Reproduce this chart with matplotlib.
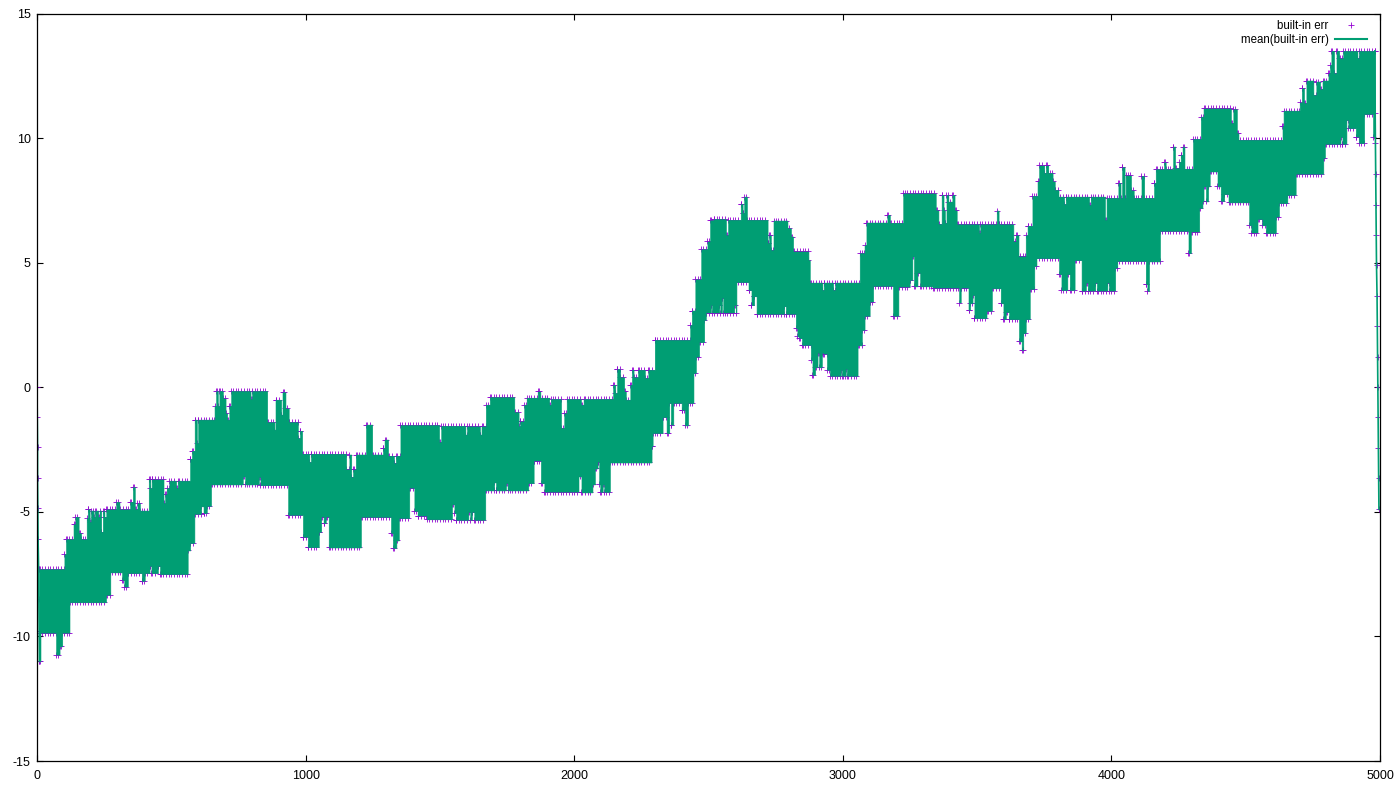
import matplotlib
matplotlib.use("Agg")
import matplotlib.pyplot as plt
import numpy as np

plt.rcParams['font.family'] = ['Liberation Sans', 'DejaVu Sans']
plt.rcParams['axes.unicode_minus'] = False

# upper edge of the band: (x where the level starts, level)
hi_steps = [
    (8, -7.3), (102, -6.7), (108, -6.1), (136, -5.5), (143, -5.2), (155, -5.85), (164, -6.1),
    (185, -5.25), (189, -4.9), (196, -5.4), (201, -4.95), (211, -5.2), (216, -4.95), (228, -5.2),
    (233, -4.95), (239, -5.8), (245, -4.95), (251, -5.2), (258, -4.9), (295, -4.6), (307, -4.9),
    (347, -4.6), (357, -4.0), (364, -4.9), (374, -4.65), (383, -4.95), (416, -3.7), (422, -4.05),
    (427, -3.7), (471, -4.65), (477, -4.3), (483, -4.05), (493, -3.75), (518, -4.05), (524, -3.75),
    (570, -2.87), (577, -2.55), (587, -1.3), (595, -2.25), (600, -1.3), (661, -0.75), (667, -0.15),
    (673, -0.75), (679, -0.15), (692, -0.45), (702, -1.05), (708, -1.3), (716, -0.75), (723, -0.15),
    (795, -0.48), (801, -0.15), (857, -1.4), (884, -1.7), (888, -0.5), (909, -1.1), (914, -0.2),
    (925, -0.85), (937, -1.4), (971, -2.05), (979, -1.75), (987, -2.67), (1014, -3.0), (1020, -2.67),
    (1151, -3.3), (1163, -2.7), (1170, -3.6), (1177, -3.3), (1187, -2.7), (1225, -1.5), (1248, -2.7),
    (1288, -2.45), (1294, -2.1), (1307, -2.75), (1329, -3.05), (1336, -2.75), (1353, -1.52),
    (1497, -2.2), (1505, -1.55), (1595, -1.9), (1601, -1.57), (1649, -1.9), (1655, -1.57),
    (1671, -0.7), (1686, -0.4), (1777, -1.0), (1793, -1.57), (1799, -1.37), (1814, -0.7), (1823, -0.42),
    (1864, -0.17), (1874, -0.42), (1907, -0.7), (1913, -0.47), (1951, -1.64), (1963, -1.04),
    (1972, -0.47), (2025, -0.7), (2035, -0.47), (2145, 0.1), (2153, -0.23), (2160, 0.73), (2171, 0.4),
    (2186, -0.17), (2192, -0.5), (2209, 0.1), (2215, 0.7), (2221, 0.4), (2238, 0.7), (2263, 0.37),
    (2276, 0.7), (2300, 1.9), (2432, 2.5), (2438, 3.08), (2451, 4.33), (2473, 5.54), (2496, 5.85),
    (2506, 6.7), (2519, 6.75), (2565, 6.1), (2573, 6.72), (2620, 7.36), (2627, 7.0), (2633, 7.65),
    (2643, 6.72), (2720, 5.78), (2726, 6.1), (2732, 5.5), (2742, 6.69), (2794, 6.38), (2807, 6.05),
    (2815, 5.45), (2872, 5.1), (2877, 4.2), (2924, 3.9), (2929, 4.2), (2964, 3.9), (2972, 4.2),
    (3063, 5.38), (3081, 5.7), (3088, 6.61), (3166, 6.92), (3175, 6.6), (3225, 7.78), (3346, 7.1),
    (3356, 6.55), (3368, 7.72), (3375, 7.1), (3380, 6.6), (3386, 7.72), (3393, 7.45), (3408, 7.72),
    (3416, 7.1), (3424, 6.54), (3507, 6.2), (3512, 6.54), (3573, 7.09), (3580, 6.54), (3635, 5.85),
    (3644, 6.1), (3654, 5.25), (3681, 6.1), (3688, 6.48), (3706, 7.68), (3725, 8.26), (3731, 8.9),
    (3750, 8.6), (3756, 8.9), (3765, 8.6), (3781, 8.26), (3789, 7.92), (3803, 7.65), (3824, 7.35),
    (3830, 7.65), (3917, 7.32), (3923, 7.65), (3976, 6.72), (3982, 7.6), (4026, 8.2), (4034, 7.6),
    (4040, 8.83), (4049, 7.6), (4053, 8.5), (4073, 7.9), (4083, 7.6), (4112, 8.48), (4122, 7.6),
    (4159, 8.2), (4165, 8.75), (4196, 9.03), (4202, 8.75), (4230, 9.66), (4237, 8.79), (4252, 9.05),
    (4258, 9.33), (4265, 9.66), (4272, 8.77), (4304, 9.97), (4333, 10.86), (4343, 11.19), (4445, 10.6),
    (4454, 11.16), (4467, 10.2), (4473, 9.93), (4637, 10.49), (4641, 11.1), (4701, 11.43), (4709, 12.0),
    (4717, 11.4), (4726, 12.31), (4752, 11.73), (4763, 12.27), (4777, 11.96), (4786, 12.31),
    (4808, 12.6), (4814, 12.94), (4819, 13.5), (4829, 12.6), (4838, 13.5), (4848, 13.2), (4863, 13.5),
    (4916, 13.2), (4922, 13.5), (4981, 13.5),
]

# lower edge of the band
lo_steps = [
    (8, -9.8), (9, -11.0), (13, -9.85), (71, -10.73), (84, -10.4), (94, -9.85), (121, -8.63),
    (257, -8.33), (273, -7.43), (317, -7.73), (325, -8.0), (338, -7.46), (390, -7.77), (401, -7.46),
    (419, -7.17), (426, -7.46), (450, -7.17), (458, -7.5), (561, -6.55), (570, -6.25), (586, -5.08),
    (611, -4.78), (620, -5.05), (632, -4.76), (648, -3.9), (766, -3.58), (775, -3.9), (826, -3.6),
    (832, -3.93), (935, -5.12), (990, -6.0), (1008, -6.42), (1049, -5.8), (1058, -5.19), (1067, -5.45),
    (1075, -5.19), (1086, -6.43), (1206, -5.2), (1318, -5.85), (1325, -6.45), (1338, -6.15),
    (1347, -5.25), (1386, -4.03), (1405, -4.96), (1417, -5.15), (1451, -5.3), (1545, -4.7), (1554, -5.05),
    (1560, -5.32), (1606, -5.0), (1613, -5.32), (1619, -5.0), (1628, -5.32), (1669, -4.14), (1702, -3.82),
    (1709, -4.14), (1746, -3.85), (1752, -4.14), (1829, -3.85), (1849, -2.94), (1876, -3.85),
    (1889, -4.19), (2016, -3.58), (2027, -4.22), (2068, -3.9), (2077, -3.26), (2087, -2.98), (2093, -3.9),
    (2097, -4.2), (2106, -3.9), (2112, -4.2), (2133, -3.02), (2288, -2.37), (2292, -1.84), (2329, -1.2),
    (2344, -1.84), (2354, -0.63), (2360, -1.5), (2369, -0.63), (2400, -0.9), (2412, -1.53), (2424, -0.63),
    (2444, 0.57), (2453, 1.23), (2465, 1.81), (2484, 2.7), (2490, 3.0), (2509, 3.3), (2513, 3.0),
    (2540, 3.3), (2544, 3.0), (2550, 3.6), (2555, 3.0), (2596, 3.3), (2602, 3.0), (2604, 4.22),
    (2649, 3.9), (2660, 3.3), (2670, 3.65), (2679, 2.95), (2782, 3.25), (2788, 2.95), (2825, 2.37),
    (2831, 2.04), (2838, 1.97), (2848, 1.7), (2881, 1.1), (2887, 0.5), (2897, 0.8), (2906, 1.39),
    (2912, 0.8), (2922, 1.39), (2928, 1.35), (2941, 0.7), (2952, 0.46), (2993, 0.7), (2997, 0.46),
    (3011, 0.75), (3015, 0.46), (3055, 1.68), (3071, 2.3), (3081, 2.87), (3100, 3.44), (3113, 4.07),
    (3187, 2.87), (3207, 4.04), (3249, 4.31), (3259, 5.25), (3265, 4.05), (3278, 4.6), (3288, 4.05),
    (3334, 4.0), (3433, 3.4), (3439, 4.0), (3468, 3.1), (3474, 3.37), (3483, 3.7), (3490, 2.77),
    (3535, 3.07), (3555, 3.97), (3588, 3.37), (3598, 2.74), (3607, 3.02), (3619, 2.73), (3656, 1.84),
    (3666, 1.5), (3672, 2.17), (3681, 2.73), (3696, 3.95), (3713, 4.87), (3721, 5.18), (3805, 4.54),
    (3814, 3.9), (3836, 4.54), (3845, 3.9), (3863, 5.1), (3889, 3.88), (3905, 4.2), (3912, 3.88),
    (3940, 4.2), (3946, 3.88), (3985, 4.2), (3991, 3.88), (4014, 4.8), (4022, 5.07), (4128, 4.15),
    (4134, 3.87), (4140, 5.05), (4181, 6.28), (4287, 5.38), (4296, 6.25), (4327, 7.19), (4339, 7.46),
    (4343, 8.06), (4352, 7.46), (4360, 8.06), (4366, 8.66), (4395, 8.06), (4407, 7.48), (4420, 7.75),
    (4436, 7.42), (4513, 6.5), (4521, 6.21), (4544, 6.75), (4562, 6.5), (4575, 6.19), (4612, 6.85),
    (4624, 7.39), (4655, 7.72), (4686, 8.57), (4789, 9.2), (4795, 9.77), (4853, 10.05), (4860, 9.77),
    (4875, 10.73), (4882, 10.4), (4910, 10.06), (4922, 9.8), (4941, 10.97), (4974, 10.06),
]

# the two steep runs at both ends of the series
start_x = [0, 1, 2, 2, 3, 4, 6, 7, 8, 9]
start_y = [0.0, -1.2, -2.4, -3.65, -4.85, -6.1, -7.3, -8.5, -9.8, -11.0]
end_x = [4981, 4982, 4983, 4984, 4985, 4986, 4987, 4989, 4990, 4991, 4992, 4993, 4994, 4995, 4996]
end_y = [13.5, 11.0, 9.8, 8.55, 7.33, 6.1, 4.9, 3.65, 2.45, 1.2, 0.0, -1.2, -2.45, -3.65, -4.9]

xticks = [0, 1000, 2000, 3000, 4000, 5000]
yticks = [-15, -10, -5, 0, 5, 10, 15]

PURPLE = '#9400D3'
GREEN = '#009E73'

hi_x, hi_y = map(np.array, zip(*hi_steps))
lo_x, lo_y = map(np.array, zip(*lo_steps))


def level(steps_x, steps_y, x):
    return steps_y[np.searchsorted(steps_x, x, side='right') - 1]


edges = np.union1d(hi_x, lo_x)
edges = edges[edges <= 4981]
upper = level(hi_x, hi_y, edges)
lower = level(lo_x, lo_y, edges)

fig = plt.figure(figsize=(14, 7.88), dpi=100)
ax = fig.add_axes([37 / 1400, 1 - 761 / 788, (1380 - 37) / 1400, (761 - 13.5) / 788])

# points sit on the band edges, the band hides their inner half
grid = np.arange(10, 4980, 10)
px = np.concatenate([grid, grid, hi_x, lo_x, start_x, end_x])
py = np.concatenate([level(hi_x, hi_y, grid), level(lo_x, lo_y, grid), hi_y, lo_y, start_y, end_y])
ax.plot(px, py, '+', color=PURPLE, ms=4.5, mew=0.6, zorder=2)

ax.fill_between(edges, lower, upper, step='post', color=GREEN, lw=0.4, zorder=3)
ax.plot(start_x, start_y, color=GREEN, lw=1.2, zorder=3)
ax.plot(end_x, end_y, color=GREEN, lw=1.2, zorder=3)

ax.set_xlim(0, 5000)
ax.set_ylim(-15, 15)
ax.set_xticks(xticks)
ax.set_yticks(yticks)
ax.tick_params(direction='in', top=True, right=True, length=4.5, width=0.8, labelsize=9, zorder=4)
ax.tick_params(axis='x', pad=6.5)
ax.tick_params(axis='y', pad=4.5)
for s in ax.spines.values():
    s.set_linewidth(0.9)
    s.set_zorder(5)

h1, = ax.plot([], [], '+', color=PURPLE, ms=4.5, mew=0.6, label='built-in err')
h2, = ax.plot([], [], color=GREEN, lw=1.5, label='mean(built-in err)')
ax.legend(handles=[h1, h2], loc='upper right', bbox_to_anchor=(0.9917, 0.9948), frameon=False,
          markerfirst=False, fontsize=8.3, handlelength=2.7, handletextpad=0.6,
          labelspacing=0.17, borderpad=0.2, borderaxespad=0)

fig.savefig('out.png', dpi=100)
